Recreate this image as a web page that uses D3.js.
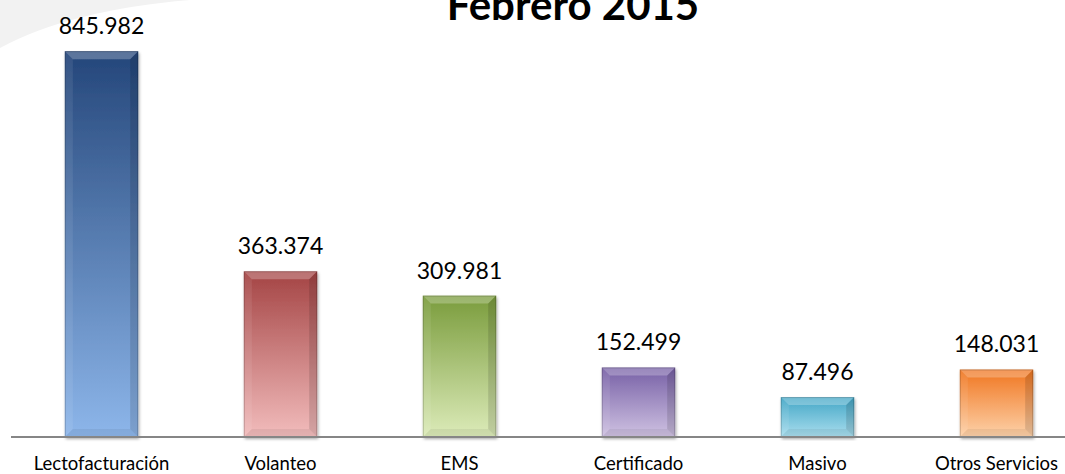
<!DOCTYPE html>
<html>
<head>
<meta charset="utf-8">
<script src="https://cdn.jsdelivr.net/npm/d3@7"></script>
<style>
  body { margin: 0; background: #fff; }
  svg { display: block; font-family: Lato, "Open Sans", sans-serif; }
</style>
</head>
<body>
<div id="chart"></div>
<script>
var categories = ["Lectofacturación", "Volanteo", "EMS", "Certificado", "Masivo", "Otros Servicios"];
var values = [845982, 363374, 309981, 152499, 87496, 148031];
var valueLabels = ["845.982", "363.374", "309.981", "152.499", "87.496", "148.031"];
var title = "Febrero 2015";
// top / bottom colour for each bar's gradient
var topColors = ["#24467a", "#a44444", "#7a9c3c", "#7760a6", "#42a6c6", "#f07620"];
var bottomColors = ["#8db6ea", "#f2bcbc", "#dcebb9", "#cfc2e2", "#aadeee", "#fdd2aa"];

var width = 1065, height = 474;
var baseY = 437;

var svg = d3.select("#chart").append("svg")
    .attr("width", width)
    .attr("height", height);

var defs = svg.append("defs");

var shadow = defs.append("filter").attr("id", "shadow")
    .attr("x", "-20%").attr("y", "-10%").attr("width", "140%").attr("height", "120%");
shadow.append("feDropShadow")
    .attr("dx", 1).attr("dy", 2).attr("stdDeviation", 1.5)
    .attr("flood-color", "#000").attr("flood-opacity", 0.35);

categories.forEach(function(c, i) {
    var g = defs.append("linearGradient").attr("id", "grad" + i)
        .attr("x1", 0).attr("y1", 0).attr("x2", 0).attr("y2", 1);
    g.append("stop").attr("offset", "0%").attr("stop-color", topColors[i]);
    g.append("stop").attr("offset", "100%").attr("stop-color", bottomColors[i]);
});

// faint swoosh in the corner
svg.append("path")
    .attr("d", "M0,48 Q70,10 190,0 L0,0 Z")
    .attr("fill", "#f2f2f2");

var x = d3.scaleBand()
    .domain(categories)
    .range([12, 1086])
    .paddingInner(0.59)
    .paddingOuter(0.295);

var y = d3.scaleLinear()
    .domain([0, 900000])
    .range([baseY, 26.5]);

svg.append("text")
    .attr("x", 573)
    .attr("y", 20)
    .attr("text-anchor", "middle")
    .attr("font-size", 42)
    .attr("font-weight", "bold")
    .attr("fill", "#000")
    .text(title);

var bev = 8;

var bars = svg.selectAll(".bar")
    .data(values)
    .enter().append("g")
    .attr("class", "bar")
    .attr("filter", "url(#shadow)");

bars.each(function(d, i) {
    var g = d3.select(this);
    var x0 = x(categories[i]), w = x.bandwidth();
    var y0 = y(d), h = baseY - y(d);
    var x1 = x0 + w, y1 = y0 + h;

    g.append("rect")
        .attr("x", x0).attr("y", y0)
        .attr("width", w).attr("height", h)
        .attr("fill", "url(#grad" + i + ")");

    // bevel edges
    g.append("polygon")
        .attr("points", [[x0, y0], [x1, y0], [x1 - bev, y0 + bev], [x0 + bev, y0 + bev]].join(" "))
        .attr("fill", "#fff").attr("fill-opacity", 0.25);
    g.append("polygon")
        .attr("points", [[x0, y0], [x0 + bev, y0 + bev], [x0 + bev, y1 - bev], [x0, y1]].join(" "))
        .attr("fill", "#fff").attr("fill-opacity", 0.08);
    g.append("polygon")
        .attr("points", [[x1, y0], [x1, y1], [x1 - bev, y1 - bev], [x1 - bev, y0 + bev]].join(" "))
        .attr("fill", "#000").attr("fill-opacity", 0.12);
    g.append("polygon")
        .attr("points", [[x0, y1], [x0 + bev, y1 - bev], [x1 - bev, y1 - bev], [x1, y1]].join(" "))
        .attr("fill", "#000").attr("fill-opacity", 0.06);
    g.append("rect")
        .attr("x", x0 + 0.5).attr("y", y0 + 0.5)
        .attr("width", w - 1).attr("height", h - 1)
        .attr("fill", "none")
        .attr("stroke", "#000").attr("stroke-opacity", 0.18);
});

svg.selectAll(".value")
    .data(values)
    .enter().append("text")
    .attr("class", "value")
    .attr("x", function(d, i) { return x(categories[i]) + x.bandwidth() / 2; })
    .attr("y", function(d) { return y(d) - 17; })
    .attr("text-anchor", "middle")
    .attr("font-size", 23)
    .attr("fill", "#000")
    .text(function(d, i) { return valueLabels[i]; });

svg.append("line")
    .attr("x1", 11).attr("x2", width)
    .attr("y1", baseY).attr("y2", baseY)
    .attr("stroke", "#868686")
    .attr("stroke-width", 2);

svg.selectAll(".cat")
    .data(categories)
    .enter().append("text")
    .attr("class", "cat")
    .attr("x", function(d) { return x(d) + x.bandwidth() / 2; })
    .attr("y", 470)
    .attr("text-anchor", "middle")
    .attr("font-size", 18.5)
    .attr("fill", "#000")
    .text(function(d) { return d; });
</script>
</body>
</html>
